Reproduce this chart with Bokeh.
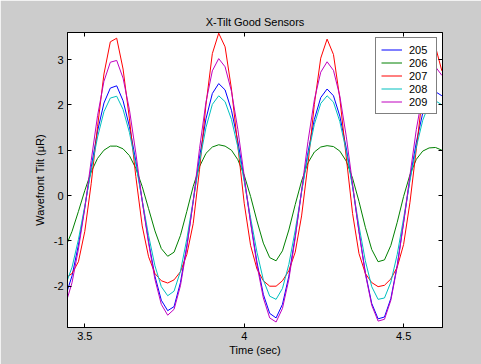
from bokeh.plotting import figure
from bokeh.models import LinearAxis, FixedTicker, Legend, LegendItem, Range1d
from bokeh.embed import file_html
from bokeh.resources import INLINE

# ---- data ----
time_s = [3.44, 3.46, 3.48, 3.50, 3.52, 3.54, 3.56, 3.58, 3.60, 3.62,
          3.64, 3.66, 3.68, 3.70, 3.72, 3.74, 3.76, 3.78, 3.80, 3.82,
          3.84, 3.86, 3.88, 3.90, 3.92, 3.94, 3.96, 3.98, 4.00, 4.02,
          4.04, 4.06, 4.08, 4.10, 4.12, 4.14, 4.16, 4.18, 4.20, 4.22,
          4.24, 4.26, 4.28, 4.30, 4.32, 4.34, 4.36, 4.38, 4.40, 4.42,
          4.44, 4.46, 4.48, 4.50, 4.52, 4.54, 4.56, 4.58, 4.60, 4.62]

sensor_205 = [-2.21, -1.77, -1.09, -0.26, 0.62, 1.42, 2.04, 2.37,
              2.42, 2.09, 1.52, 0.76, -0.11, -1.01, -1.78, -2.31, -2.54,
              -2.45, -1.92, -1.11, -0.13, 0.85, 1.69, 2.25, 2.47,
              2.33, 1.88, 1.20, 0.36, -0.58, -1.47, -2.18, -2.60,
              -2.70, -2.40, -1.78, -0.90, 0.09, 0.95, 1.68, 2.16, 2.35,
              2.20, 1.75, 1.05, 0.20, -0.79, -1.70, -2.38, -2.72,
              -2.68, -2.27, -1.54, -0.59, 0.37, 1.18, 1.82, 2.21,
              2.29, 2.20]

sensor_206 = [-1.13, -0.79, -0.35, 0.11, 0.52, 0.82, 1.00, 1.09,
              1.09, 1.03, 0.88, 0.60, 0.20, -0.29, -0.78, -1.17, -1.34,
              -1.25, -0.88, -0.35, 0.20, 0.64, 0.93, 1.07, 1.12,
              1.09, 1.00, 0.79, 0.45, -0.02, -0.56, -1.05, -1.37,
              -1.44, -1.22, -0.76, -0.20, 0.32, 0.72, 0.96, 1.07, 1.10,
              1.08, 0.98, 0.76, 0.38, -0.13, -0.70, -1.19, -1.46,
              -1.42, -1.10, -0.59, -0.02, 0.46, 0.80, 0.98, 1.05,
              1.06, 1.00]

sensor_207 = [-1.82, -1.72, -1.46, -0.79, 0.26, 1.52, 2.68, 3.39,
              3.47, 2.79, 1.69, 0.42, -0.67, -1.35, -1.72, -1.88, -1.93,
              -1.86, -1.68, -1.30, -0.62, 0.58, 2.00, 3.13, 3.58,
              3.28, 2.35, 1.09, -0.17, -1.10, -1.62, -1.88, -2.00,
              -2.00, -1.88, -1.66, -1.25, -0.45, 0.69, 2.01, 3.03, 3.45,
              3.11, 2.14, 0.85, -0.40, -1.28, -1.72, -1.92, -2.01,
              -1.98, -1.84, -1.58, -1.08, -0.15, 1.03, 2.25, 3.09,
              3.28, 2.75]

sensor_208 = [-1.97, -1.58, -0.97, -0.23, 0.56, 1.29, 1.85, 2.15,
              2.19, 1.90, 1.39, 0.69, -0.10, -0.88, -1.55, -2.01, -2.21,
              -2.11, -1.67, -0.96, -0.11, 0.75, 1.50, 2.01, 2.20,
              2.07, 1.68, 1.07, 0.32, -0.49, -1.25, -1.86, -2.22,
              -2.29, -2.05, -1.52, -0.77, 0.08, 0.89, 1.57, 2.03, 2.20,
              2.06, 1.63, 0.98, 0.19, -0.67, -1.44, -2.01, -2.29,
              -2.26, -1.91, -1.30, -0.50, 0.33, 1.07, 1.66, 2.02,
              2.09, 2.00]

sensor_209 = [-2.39, -1.92, -1.18, -0.28, 0.77, 1.76, 2.52, 2.94,
              2.98, 2.59, 1.89, 0.94, -0.12, -1.05, -1.85, -2.40, -2.64,
              -2.51, -1.99, -1.15, -0.13, 1.04, 2.06, 2.75, 3.02,
              2.84, 2.30, 1.46, 0.43, -0.60, -1.53, -2.26, -2.70,
              -2.79, -2.49, -1.85, -0.94, 0.11, 1.19, 2.11, 2.72, 2.95,
              2.76, 2.19, 1.31, 0.25, -0.80, -1.73, -2.42, -2.77,
              -2.73, -2.31, -1.57, -0.60, 0.45, 1.46, 2.25, 2.74,
              2.84, 2.65]

series_names = ["205", "206", "207", "208", "209"]
series_values = [sensor_205, sensor_206, sensor_207, sensor_208, sensor_209]
series_colors = ["#0000ff", "#008000", "#ff0000", "#00bfbf", "#bf00bf"]

x_ticks = [3.5, 4.0, 4.5]
x_tick_labels = ["3.5", "4", "4.5"]
y_ticks = [-2, -1, 0, 1, 2, 3]
y_tick_labels = ["-2", "-1", "0", "1", "2", "3"]

title_text = "X-Tilt Good Sensors"
x_label = "Time (sec)"
y_label = "Wavefront Tilt (\u03bcR)"

FONT = "Liberation Sans"
FS = "11px"

p = figure(width=481, height=364, output_backend="svg", toolbar_location=None,
           x_range=Range1d(3.4457, 4.622), y_range=Range1d(-2.911, 3.596),
           min_border_left=67, min_border_right=39, min_border_top=32,
           min_border_bottom=37,
           background_fill_color="white", border_fill_color="#cccccc",
           title=title_text)

p.title.align = "center"
p.title.text_font = FONT
p.title.text_font_size = FS
p.title.text_font_style = "normal"
p.title.text_color = "black"
p.title.standoff = 9

p.grid.visible = False
p.outline_line_color = "black"
p.outline_line_width = 1

def style_axis(ax, ticks, labels, show_labels=True):
    ax.ticker = FixedTicker(ticks=ticks)
    ax.major_tick_in = 4
    ax.major_tick_out = 0
    ax.minor_tick_in = 0
    ax.minor_tick_out = 0
    ax.axis_line_color = "black"
    ax.major_tick_line_color = "black"
    if show_labels:
        ax.major_label_overrides = {t: l for t, l in zip(ticks, labels)}
        ax.major_label_text_font = FONT
        ax.major_label_text_font_size = FS
        ax.major_label_text_color = "black"
        ax.major_label_standoff = 4
        ax.axis_label_text_font = FONT
        ax.axis_label_text_font_size = FS
        ax.axis_label_text_font_style = "normal"
        ax.axis_label_text_color = "black"
    else:
        ax.major_label_text_color = None
        ax.major_label_standoff = 0

xa = p.xaxis[0]
style_axis(xa, x_ticks, x_tick_labels)
xa.axis_label = x_label
xa.axis_label_standoff = 1

ya = p.yaxis[0]
style_axis(ya, y_ticks, y_tick_labels)
ya.axis_label = y_label
ya.axis_label_standoff = 5

top_ax = LinearAxis()
style_axis(top_ax, x_ticks, x_tick_labels, show_labels=False)
p.add_layout(top_ax, "above")
right_ax = LinearAxis()
style_axis(right_ax, y_ticks, y_tick_labels, show_labels=False)
p.add_layout(right_ax, "right")

items = []
for name, vals, col in zip(series_names, series_values, series_colors):
    r = p.line(time_s, vals, line_color=col, line_width=1)
    items.append(LegendItem(label=name, renderers=[r]))

legend = Legend(items=items, location="top_right")
legend.margin = 5
legend.padding = 5
legend.spacing = 0
legend.label_height = 13
legend.glyph_height = 13
legend.glyph_width = 21
legend.label_width = 22
legend.label_standoff = 7
legend.label_text_font = FONT
legend.label_text_font_size = FS
legend.label_text_color = "black"
legend.border_line_color = "black"
legend.border_line_width = 1
legend.background_fill_color = "white"
legend.background_fill_alpha = 1.0
p.add_layout(legend)

open("out.html", "w").write(file_html(p, INLINE))
